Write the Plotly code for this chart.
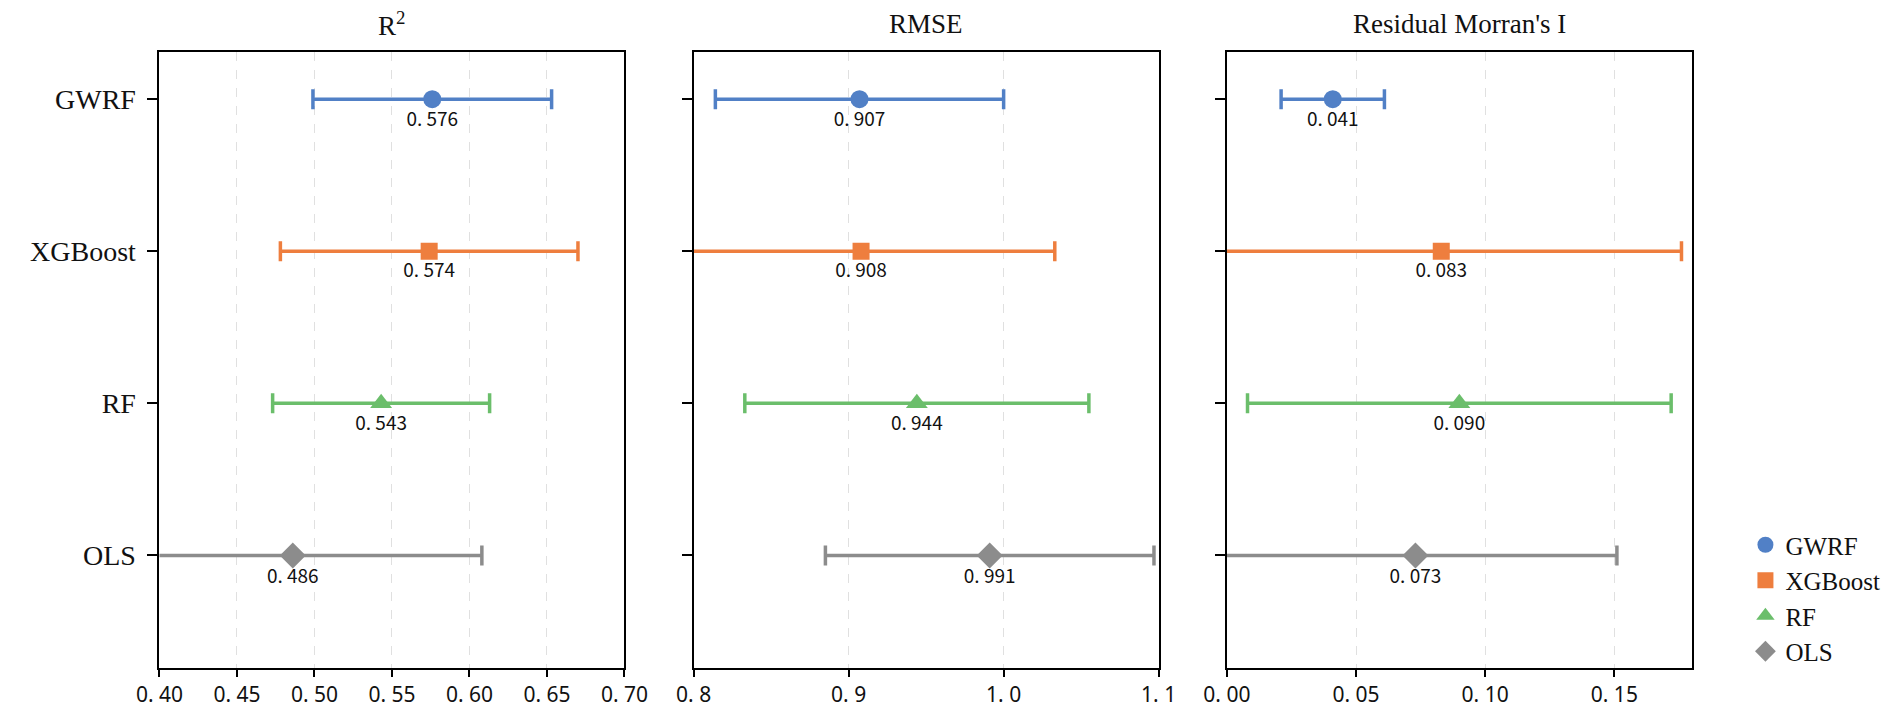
import plotly.graph_objects as go

# ---------------- data ----------------
models = ["GWRF", "XGBoost", "RF", "OLS"]
colors = ["#5180C6", "#EE7E3E", "#6BBE6B", "#8C8C8C"]
symbols = ["circle", "square", "triangle-up", "diamond"]
marker_sizes = [18, 17, 19, 20]

metrics = ["R<sup>2</sup>", "RMSE", "Residual Morran's I"]

r2_mean = [0.576, 0.574, 0.543, 0.486]
r2_err = [0.077, 0.096, 0.070, 0.122]

rmse_mean = [0.907, 0.908, 0.944, 0.991]
rmse_err = [0.093, 0.125, 0.111, 0.106]

moran_mean = [0.041, 0.083, 0.090, 0.073]
moran_err = [0.020, 0.093, 0.082, 0.078]

r2_ticks = [0.40, 0.45, 0.50, 0.55, 0.60, 0.65, 0.70]
r2_ticklabels = ["0. 40", "0. 45", "0. 50", "0. 55", "0. 60", "0. 65", "0. 70"]
rmse_ticks = [0.8, 0.9, 1.0, 1.1]
rmse_ticklabels = ["0. 8", "0. 9", "1. 0", "1. 1"]
moran_ticks = [0.00, 0.05, 0.10, 0.15]
moran_ticklabels = ["0. 00", "0. 05", "0. 10", "0. 15"]

ranges = [[0.40, 0.70], [0.8, 1.1], [0.0, 0.180]]

# ---------------- layout geometry ----------------
W, H = 1902, 713
panel_left = [139, 687, 1234]
panel_w = 477
top_px, bottom_px = 52, 668

serif = "Liberation Serif, Times New Roman, serif"
cjk = "Noto Sans CJK SC, Noto Sans, sans-serif"
sans = "Noto Sans, DejaVu Sans, sans-serif"

fig = go.Figure()

all_means = [r2_mean, rmse_mean, moran_mean]
all_errs = [r2_err, rmse_err, moran_err]

for p in range(3):
    xa = "x" if p == 0 else f"x{p+1}"
    ya = "y" if p == 0 else f"y{p+1}"
    for i, m in enumerate(models):
        v = all_means[p][i]
        fig.add_trace(go.Scatter(
            x=[v], y=[i],
            xaxis=xa, yaxis=ya,
            mode="markers+text",
            name=m,
            legendgroup=m,
            showlegend=(p == 0),
            marker=dict(symbol=symbols[i], size=marker_sizes[i], color=colors[i],
                        line=dict(width=0)),
            error_x=dict(type="data", array=[all_errs[p][i]], color=colors[i],
                         thickness=3.5, width=10, visible=True),
            text=[f"{v:.3f}".replace(".", ". ")],
            textposition="bottom center",
            textfont=dict(family=cjk, size=19, color="#111111"),
            cliponaxis=True,
            hoverinfo="skip",
        ))

layout = dict(
    width=W, height=H,
    margin=dict(l=0, r=0, t=0, b=0),
    paper_bgcolor="white", plot_bgcolor="white",
    showlegend=True,
    legend=dict(
        x=1766 / W, xanchor="left",
        y=1 - 522 / H, yanchor="top",
        font=dict(family=serif, size=25, color="#111111"),
        bgcolor="rgba(0,0,0,0)",
        itemsizing="trace",
        tracegroupgap=0,
        itemwidth=30,
    ),
    annotations=[],
)

tick_sets = [(r2_ticks, r2_ticklabels), (rmse_ticks, rmse_ticklabels),
             (moran_ticks, moran_ticklabels)]

ydom = [1 - bottom_px / H, 1 - top_px / H]
for p in range(3):
    xkey = "xaxis" if p == 0 else f"xaxis{p+1}"
    ykey = "yaxis" if p == 0 else f"yaxis{p+1}"
    x0 = panel_left[p] / W
    x1 = (panel_left[p] + panel_w) / W
    tv, tt = tick_sets[p]
    layout[xkey] = dict(
        domain=[x0, x1], range=ranges[p], anchor="y" if p == 0 else f"y{p+1}",
        tickmode="array", tickvals=tv, ticktext=tt,
        ticks="outside", ticklen=7, tickwidth=2, tickcolor="black",
        tickfont=dict(family=sans, size=21, color="#111111"),
        showline=True, linecolor="black", linewidth=2, mirror=True,
        showgrid=True, gridcolor="#e0e0e0", griddash="dash", gridwidth=1,
        zeroline=False, fixedrange=True,
    )
    layout[ykey] = dict(
        domain=ydom, range=[3.74, -0.31], anchor="x" if p == 0 else f"x{p+1}",
        tickmode="array", tickvals=[0, 1, 2, 3], ticktext=models,
        showticklabels=(p == 0),
        ticks="outside", ticklen=10, tickwidth=2, tickcolor="black",
        ticklabelstandoff=6,
        tickfont=dict(family=serif, size=28, color="#111111"),
        showline=True, linecolor="black", linewidth=2, mirror=True,
        showgrid=False, zeroline=False, fixedrange=True,
    )
    layout["annotations"].append(dict(
        text=metrics[p], xref="paper", yref="paper",
        x=(x0 + x1) / 2, y=1 - 24 / H, xanchor="center", yanchor="middle",
        showarrow=False, font=dict(family=serif, size=27, color="#111111"),
    ))

fig.update_layout(**layout)
fig.write_html(
    "out.html",
    config={"displayModeBar": False},
    post_script="document.body.style.margin='0';document.body.style.overflow='hidden';",
)
